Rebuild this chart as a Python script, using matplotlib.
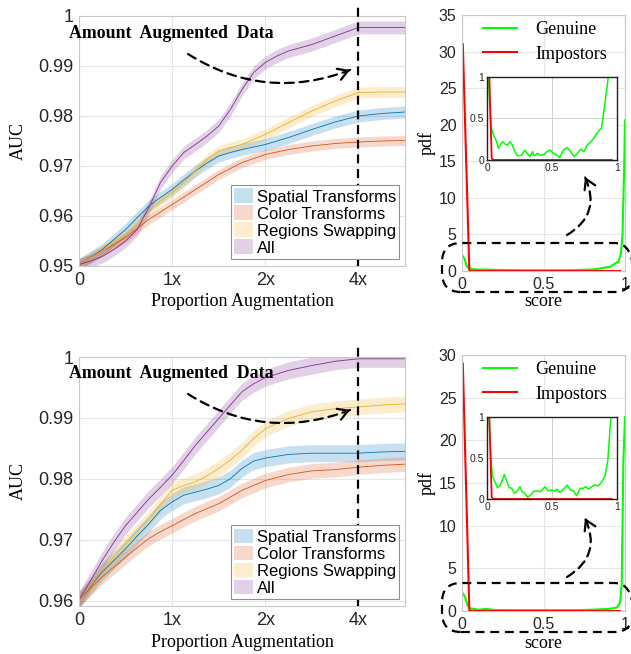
import numpy as np
import matplotlib
matplotlib.use("Agg")
import matplotlib.pyplot as plt
from matplotlib.patches import FancyBboxPatch

W, H = 631, 654

methods = ["Spatial Transforms", "Color Transforms", "Regions Swapping", "All"]
colors = ["#0072BD", "#D95319", "#EDB120", "#7E2F8E"]

# proportion of augmented data (0, 1x, 2x, 4x on an even axis)
prop = [0, 0.125, 0.25, 0.375, 0.5, 0.625, 0.75, 0.875, 1.0, 1.125, 1.25, 1.375,
        1.5, 1.625, 1.75, 1.875, 2.0, 2.125, 2.25, 2.5, 2.75, 3.0, 3.25, 3.5]
prop_ticks = [0, 1, 2, 3]
prop_labels = ["0", "1x", "2x", "4x"]

# top experiment
auc_top_spatial = [0.9503, 0.9518, 0.9533, 0.9553, 0.9573, 0.9597, 0.9620, 0.9637,
                   0.9653, 0.9672, 0.9690, 0.9706, 0.9720, 0.9727, 0.9733, 0.9738,
                   0.9743, 0.9750, 0.9757, 0.9773, 0.9788, 0.9800, 0.9805, 0.9808]
auc_top_color = [0.9503, 0.9517, 0.9530, 0.9543, 0.9557, 0.9575, 0.9593, 0.9608,
                 0.9623, 0.9638, 0.9653, 0.9668, 0.9683, 0.9695, 0.9707, 0.9715,
                 0.9723, 0.9728, 0.9733, 0.9740, 0.9745, 0.9748, 0.9750, 0.9751]
auc_top_regions = [0.9503, 0.9517, 0.9530, 0.9547, 0.9563, 0.9585, 0.9610, 0.9630,
                   0.9647, 0.9667, 0.9690, 0.9713, 0.9730, 0.9737, 0.9743, 0.9753,
                   0.9763, 0.9775, 0.9787, 0.9810, 0.9830, 0.9847, 0.9848, 0.9848]
auc_top_all = [0.9503, 0.9510, 0.9519, 0.9533, 0.9550, 0.9573, 0.9617, 0.9667,
               0.9700, 0.9727, 0.9743, 0.9760, 0.9780, 0.9813, 0.9853, 0.9887,
               0.9907, 0.9920, 0.9930, 0.9943, 0.9960, 0.9977, 0.9977, 0.9977]
band_top = [0.0012, 0.0010, 0.0011, 0.0013]

# bottom experiment
auc_bot_spatial = [0.9601, 0.9624, 0.9647, 0.9666, 0.9685, 0.9706, 0.9726, 0.9748,
                   0.9762, 0.9773, 0.9778, 0.9783, 0.9789, 0.9800, 0.9817, 0.9829,
                   0.9834, 0.9837, 0.9840, 0.9842, 0.9842, 0.9842, 0.9844, 0.9845]
auc_bot_color = [0.9601, 0.9620, 0.9639, 0.9655, 0.9671, 0.9687, 0.9702, 0.9713,
                 0.9723, 0.9733, 0.9743, 0.9751, 0.9759, 0.9770, 0.9781, 0.9789,
                 0.9797, 0.9802, 0.9807, 0.9813, 0.9815, 0.9819, 0.9822, 0.9824]
auc_bot_regions = [0.9601, 0.9625, 0.9650, 0.9672, 0.9693, 0.9714, 0.9734, 0.9758,
                   0.9781, 0.9789, 0.9795, 0.9805, 0.9817, 0.9831, 0.9847, 0.9866,
                   0.9882, 0.9891, 0.9899, 0.9910, 0.9915, 0.9918, 0.9921, 0.9923]
auc_bot_all = [0.9601, 0.9633, 0.9666, 0.9696, 0.9723, 0.9745, 0.9767, 0.9786,
               0.9806, 0.9830, 0.9855, 0.9877, 0.9899, 0.9921, 0.9943, 0.9956,
               0.9966, 0.9972, 0.9978, 0.9986, 0.9993, 0.9997, 0.9997, 0.9997]
band_bot = [0.0014, 0.0012, 0.0013, 0.0014]

# score distributions (main panels)
gen_top_x = [0, 0.015, 0.03, 0.045, 0.07, 0.1, 0.15, 0.2, 0.3, 0.4, 0.5, 0.6, 0.7,
             0.8, 0.85, 0.91, 0.96, 0.975, 0.985, 0.995, 1.0]
gen_top_y = [2.2, 1.7, 0.6, 0.36, 0.25, 0.2, 0.2, 0.15, 0.12, 0.1, 0.1, 0.1, 0.12,
             0.2, 0.36, 0.6, 1.3, 2.4, 5.1, 14.3, 20.6]
imp_top_x = [0.005, 0.045, 0.06, 0.97]
imp_top_y = [31, 0.1, 0, 0]

gen_bot_x = [0, 0.02, 0.035, 0.05, 0.1, 0.15, 0.2, 0.3, 0.4, 0.5, 0.6, 0.7, 0.8,
             0.9, 0.95, 0.97, 0.98, 0.99, 1.0]
gen_bot_y = [2.2, 1.6, 0.6, 0.32, 0.15, 0.25, 0.12, 0.1, 0.1, 0.1, 0.1, 0.1, 0.15,
             0.25, 0.4, 1.0, 3.2, 17.6, 22.7]
imp_bot_x = [0.005, 0.045, 0.06, 0.97]
imp_bot_y = [29, 0.1, 0, 0]

# zoomed insets
ins_top_x = [0, 0.01, 0.03, 0.05, 0.07, 0.087, 0.105, 0.12, 0.14, 0.156, 0.177, 0.195,
             0.215, 0.233, 0.267, 0.29, 0.31, 0.33, 0.35, 0.364, 0.387, 0.41, 0.433,
             0.46, 0.485, 0.51, 0.536, 0.56, 0.587, 0.618, 0.644, 0.67, 0.695, 0.72,
             0.746, 0.77, 0.8, 0.82, 0.845, 0.864, 0.88, 0.9, 0.92, 0.933, 0.95]
ins_top_gen = [1.8, 1.0, 0.4, 0.3, 0.24, 0.14, 0.19, 0.22, 0.19, 0.18, 0.22, 0.18,
               0.1, 0.05, 0.06, 0.12, 0.08, 0.04, 0.1, 0.05, 0.08, 0.06, 0.06,
               0.1, 0.12, 0.08, 0.06, 0.03, 0.12, 0.15, 0.1, 0.04, 0.08, 0.13,
               0.1, 0.18, 0.22, 0.26, 0.32, 0.36, 0.38, 0.6, 0.84, 1.0, 1.5]
ins_bot_x = [0, 0.015, 0.028, 0.041, 0.06, 0.082, 0.1, 0.115, 0.133, 0.151, 0.17, 0.19,
             0.21, 0.228, 0.254, 0.27, 0.29, 0.313, 0.336, 0.356, 0.38, 0.41, 0.43,
             0.446, 0.47, 0.497, 0.523, 0.54, 0.56, 0.587, 0.618, 0.64, 0.664, 0.69,
             0.715, 0.74, 0.76, 0.78, 0.805, 0.83, 0.856, 0.88, 0.91, 0.93, 0.946,
             0.954, 0.965]
ins_bot_gen = [1.8, 1.0, 0.56, 0.29, 0.21, 0.14, 0.16, 0.22, 0.3, 0.22, 0.14, 0.13,
               0.07, 0.09, 0.15, 0.09, 0.07, 0.02, 0.05, 0.09, 0.1, 0.09, 0.12,
               0.15, 0.1, 0.11, 0.1, 0.12, 0.08, 0.12, 0.17, 0.11, 0.1, 0.04,
               0.13, 0.13, 0.15, 0.12, 0.15, 0.17, 0.16, 0.2, 0.29, 0.48, 0.85,
               1.0, 1.5]
ins_imp_x = [0, 0.036, 0.05, 0.96]
ins_imp_y = [2.0, 0.02, 0, 0]

plt.rcParams["font.family"] = "Liberation Sans"
SERIF = "Liberation Serif"
TICK = "#262626"
GRID = "#e6e6e6"
SPINE = "#c8c8c8"
DASH = (0, (4, 2.6))

fig = plt.figure(figsize=(W / 100, H / 100), dpi=100)


def rect(l, t, r, b):
    return [l / W, 1 - b / H, (r - l) / W, (b - t) / H]


def style_main(ax):
    for s in ax.spines.values():
        s.set_color(SPINE)
        s.set_linewidth(0.8)
    ax.grid(True, color=GRID, lw=0.8)
    ax.set_axisbelow(True)
    ax.tick_params(direction="in", length=0, colors=TICK, pad=4)


def auc_panel(ax, series, bands, ylim, yticks, ylabels, label_y):
    for vals, col, name, w in zip(series, colors, methods, bands):
        lo = [v - w for v in vals]
        hi = [v + w for v in vals]
        ax.fill_between(prop, lo, hi, color=col, alpha=0.22, lw=0, label=name)
        ax.plot(prop, vals, color=col, lw=0.6)
    ax.set_xlim(0, 3.5)
    ax.set_ylim(*ylim)
    ax.set_xticks(prop_ticks, prop_labels)
    ax.set_yticks(yticks, ylabels)
    style_main(ax)
    ax.tick_params(labelsize=13)
    span = ylim[1] - ylim[0]
    ax.plot([3, 3], [ylim[0], ylim[1] + 0.045 * span], color="k", lw=1.6, ls=DASH,
            clip_on=False, zorder=3)
    ax.set_xlabel("Proportion Augmentation", family=SERIF, fontsize=13)
    ax.set_ylabel("AUC", family=SERIF, fontsize=13)
    ax.xaxis.label.set_va("center")
    ax.yaxis.label.set_va("center")
    ax.xaxis.set_label_coords(0.5, label_y)
    ax.yaxis.set_label_coords(-0.187, 0.5)
    ax.text(-0.031, 0.932, "Amount  Augmented  Data", transform=ax.transAxes,
            family=SERIF, fontweight="bold", fontsize=12.8, ha="left", va="center")
    leg = ax.legend(loc="lower right", bbox_to_anchor=(0.982, 0.028), borderaxespad=0,
                    fontsize=12, labelspacing=0.05, handlelength=1.15, handleheight=1.0,
                    handletextpad=0.2, borderpad=0.2, fancybox=False, framealpha=1)
    leg.get_frame().set_edgecolor("#909090")
    leg.get_frame().set_linewidth(0.8)


def pdf_panel(ax, gx, gy, ix, iy, ylim, label_y):
    ax.plot(gx, gy, color="#00ff00", lw=1.5, label="Genuine")
    ax.plot(ix, iy, color="#ff0000", lw=1.5, label="Impostors")
    ax.set_xlim(0, 1)
    ax.set_ylim(*ylim)
    ax.set_xticks([0, 0.5, 1], ["0", "0.5", "1"])
    ax.set_yticks(np.arange(0, ylim[1] + 1, 5))
    style_main(ax)
    ax.tick_params(labelsize=11.5)
    ax.set_xlabel("score", family=SERIF, fontsize=13)
    ax.set_ylabel("pdf", family=SERIF, fontsize=13)
    ax.xaxis.label.set_va("center")
    ax.yaxis.label.set_va("center")
    ax.xaxis.set_label_coords(0.5, label_y)
    ax.yaxis.set_label_coords(-0.215, 0.5)
    ax.legend(loc="upper left", bbox_to_anchor=(0.13, 0.975), borderaxespad=0,
              borderpad=0, frameon=False, prop={"family": SERIF, "size": 13},
              handlelength=1.9, handletextpad=1.0, labelspacing=0.4)


def inset_panel(ax, gx, gy):
    ax.plot(gx, gy, color="#00ff00", lw=1.1)
    ax.plot(ins_imp_x, ins_imp_y, color="#ff0000", lw=1.3)
    ax.set_xlim(0, 1)
    ax.set_ylim(0, 1)
    ax.set_xticks([0, 0.5, 1], ["0", "0.5", "1"])
    ax.set_yticks([0, 0.5, 1], ["0", "0.5", "1"])
    ax.grid(True, color="#d0d0d0", lw=0.7)
    ax.tick_params(direction="in", length=0, labelsize=7.5, colors=TICK, pad=2)
    for s in ax.spines.values():
        s.set_color("#202020")
        s.set_linewidth(1.0)


def curved_arrow(p0, p1, rad):
    x0, y0 = p0[0], H - p0[1]
    x1, y1 = p1[0], H - p1[1]
    fig.add_artist(matplotlib.text.Annotation(
        "", xy=(x1, y1), xycoords="figure pixels", xytext=(x0, y0),
        textcoords="figure pixels",
        arrowprops=dict(arrowstyle="-", ls=DASH, lw=1.6, color="k",
                        connectionstyle=f"arc3,rad={rad}", shrinkA=0, shrinkB=0)))
    cx = (x0 + x1) / 2 + rad * (y1 - y0)
    cy = (y0 + y1) / 2 - rad * (x1 - x0)
    tx, ty = x1 - cx, y1 - cy
    n = np.hypot(tx, ty)
    fig.add_artist(matplotlib.text.Annotation(
        "", xy=(x1, y1), xycoords="figure pixels",
        xytext=(x1 - 5 * tx / n, y1 - 5 * ty / n), textcoords="figure pixels",
        arrowprops=dict(arrowstyle="->,head_length=0.5,head_width=0.3", lw=1.6,
                        color="k", shrinkA=0, shrinkB=0, mutation_scale=14)))


def dashed_box(l, t, r, b):
    fig.add_artist(FancyBboxPatch(
        (l / W, 1 - b / H), (r - l) / W, (b - t) / H,
        boxstyle="round,pad=0,rounding_size=0.03", transform=fig.transFigure,
        fill=False, ec="k", lw=1.6, ls=DASH, zorder=4))


# top row
ax1 = fig.add_axes(rect(79, 16, 405, 266))
auc_panel(ax1, [auc_top_spatial, auc_top_color, auc_top_regions, auc_top_all],
          band_top, (0.95, 1.0), [0.95, 0.96, 0.97, 0.98, 0.99, 1.0],
          ["0.95", "0.96", "0.97", "0.98", "0.99", "1"], -0.144)
ax2 = fig.add_axes(rect(462, 15, 625, 271))
pdf_panel(ax2, gen_top_x, gen_top_y, imp_top_x, imp_top_y, (0, 35), -0.121)
ax3 = fig.add_axes(rect(487, 77, 617, 160))
inset_panel(ax3, ins_top_x, ins_top_gen)

# bottom row
ax4 = fig.add_axes(rect(79, 357, 405, 606))
auc_panel(ax4, [auc_bot_spatial, auc_bot_color, auc_bot_regions, auc_bot_all],
          band_bot, (0.9591, 1.0), [0.96, 0.97, 0.98, 0.99, 1.0],
          ["0.96", "0.97", "0.98", "0.99", "1"], -0.145)
ax5 = fig.add_axes(rect(462, 355, 625, 611))
pdf_panel(ax5, gen_bot_x, gen_bot_y, imp_bot_x, imp_bot_y, (0, 30), -0.125)
ax6 = fig.add_axes(rect(487, 417, 617, 499))
inset_panel(ax6, ins_bot_x, ins_bot_gen)

# annotations
curved_arrow((188, 54), (350, 70), 0.25)
curved_arrow((567, 235), (585, 177), 0.45)
curved_arrow((188, 394), (350, 410), 0.25)
curved_arrow((567, 577), (585, 518), 0.45)
dashed_box(442, 243, 633, 292)
dashed_box(442, 583, 633, 632)

fig.savefig("out.png", dpi=100)
